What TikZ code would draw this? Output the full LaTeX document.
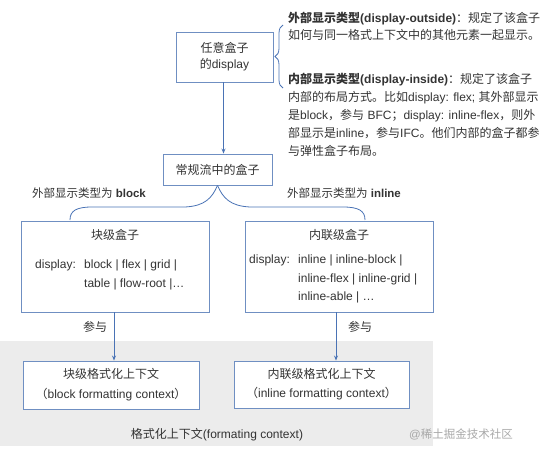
\documentclass[tikz,border=0pt]{standalone}
\usepackage{fontspec}
\setmainfont{Liberation Sans}
\newfontfamily\cjk{Noto Sans CJK SC}
\usetikzlibrary{arrows.meta,decorations.pathreplacing}
\newcommand\zh[1]{{\cjk #1}}
\definecolor{boxblue}{HTML}{6F8FC2}
\definecolor{arrblue}{HTML}{4A73B5}
\definecolor{txtgray}{HTML}{333333}
\definecolor{bggray}{HTML}{ECECEC}
\definecolor{wmgray}{HTML}{A8A8A8}
\begin{document}
\begin{tikzpicture}[x=1pt,y=-1pt,
  box/.style={draw=boxblue,line width=0.9pt,fill=white,inner sep=0pt,text=txtgray,align=center},
  txt/.style={inner sep=0pt,text=txtgray,font=\fontsize{12}{14}\selectfont},
  lbl/.style={txt,anchor=base west},
  clbl/.style={txt,anchor=base},
  arr/.style={draw=arrblue,line width=0.9pt,-{Stealth[length=5pt,width=4pt]}},
  bracestyle/.style={draw=arrblue,line width=0.8pt}]
\useasboundingbox (0,0) rectangle (541,450);
% background for formatting context
\node[fill=bggray,inner sep=0pt,minimum width=433pt,minimum height=105pt] (ctx) at (216.5,393.5) {};
\node[clbl] (ctxlbl) at (217,438.5) {\zh{格式化上下文}(formating context)};
\node[clbl,text=wmgray,font=\fontsize{11.5}{13}\selectfont] (wm) at (461,438.5) {@\zh{稀土掘金技术社区}};
% boxes
\node[box,minimum width=97pt,minimum height=50pt,font=\fontsize{12}{16}\selectfont] (b1) at (224.5,57) {\zh{任意盒子}\\\zh{的}display};
\node[box,minimum width=109pt,minimum height=31pt,font=\fontsize{12}{14}\selectfont] (b2) at (217.5,169.5) {\zh{常规流中的盒子}};
\node[box,minimum width=188pt,minimum height=91pt] (b3) at (115,266.5) {};
\node[box,minimum width=188pt,minimum height=91pt] (b4) at (339,266.5) {};
\node[box,minimum width=176pt,minimum height=48pt,font=\fontsize{12}{20}\selectfont] (b5) at (111,385) {\zh{块级格式化上下文}\\\zh{（}block formatting context\zh{）}};
\node[box,minimum width=175pt,minimum height=47pt,font=\fontsize{12}{19}\selectfont] (b6) at (321.5,384.5) {\zh{内联级格式化上下文}\\\zh{（}inline formatting context\zh{）}};
% box 3 content
\node[clbl] (b3t) at (115,239.5) {\zh{块级盒子}};
\node[lbl] (b3d) at (35,268.5) {display:};
\node[lbl] (b3l1) at (84,268.5) {block | flex | grid |};
\node[lbl] (b3l2) at (84,287.5) {table | flow-root |…};
% box 4 content
\node[clbl] (b4t) at (339,239.5) {\zh{内联级盒子}};
\node[lbl] (b4d) at (249,263.5) {display:};
\node[lbl] (b4l1) at (298,263.5) {inline | inline-block |};
\node[lbl] (b4l2) at (298,282.5) {inline-flex | inline-grid |};
\node[lbl] (b4l3) at (298,300.5) {inline-able | …};
% right explanatory text
\node[lbl] (t1) at (288,22.5) {\textbf{\zh{外部显示类型}(display-outside)}\zh{：规定了该盒子}};
\node[lbl] (t2) at (288,39.5) {\zh{如何与同一格式上下文中的其他元素一起显示。}};
\node[lbl] (t3) at (288,83.5) {\textbf{\zh{内部显示类型}(display-inside)}\zh{：规定了该盒子}};
\node[lbl] (t4) at (288,101.5) {\zh{内部的布局方式。比如}display: flex; \zh{其外部显示}};
\node[lbl] (t5) at (288,119.5) {\zh{是}block\zh{，参与} BFC\zh{；}display: inline-flex\zh{，则外}};
\node[lbl] (t6) at (288,137.5) {\zh{部显示是}inline\zh{，参与}IFC\zh{。他们内部的盒子都参}};
\node[lbl] (t7) at (288,155.5) {\zh{与弹性盒子布局。}};
% brace labels
\node[clbl,font=\fontsize{11.5}{13}\selectfont] (lb) at (89,197) {\zh{外部显示类型为} \textbf{block}};
\node[clbl,font=\fontsize{11.5}{13}\selectfont] (li) at (344,197) {\zh{外部显示类型为} \textbf{inline}};
\node[clbl] (p1) at (95,331.5) {\zh{参与}};
\node[clbl] (p2) at (360,331.5) {\zh{参与}};
% vertical brace near box 1
\draw[bracestyle,decorate,decoration={brace,amplitude=8pt}] (283,88) -- (283,25);
% big brace under box 2
\draw[bracestyle] (b2.south) .. controls (212,198) and (205,206) .. (185,207) -- (92,207) .. controls (76,207) and (70,211) .. (70,220);
\draw[bracestyle] (b2.south) .. controls (223,198) and (230,206) .. (250,207) -- (343,207) .. controls (359,207) and (365,211) .. (365,220);
% arrows
\draw[arr] ([xshift=-1pt]b1.south) -- ([xshift=-1pt]b1.south |- b2.north);
\draw[arr] ([xshift=-1pt]b3.south) -- ([xshift=-1pt]b3.south |- b5.north);
\draw[arr] ([xshift=-3pt]b4.south) -- ([xshift=-3pt]b4.south |- b6.north);
\end{tikzpicture}
\end{document}
